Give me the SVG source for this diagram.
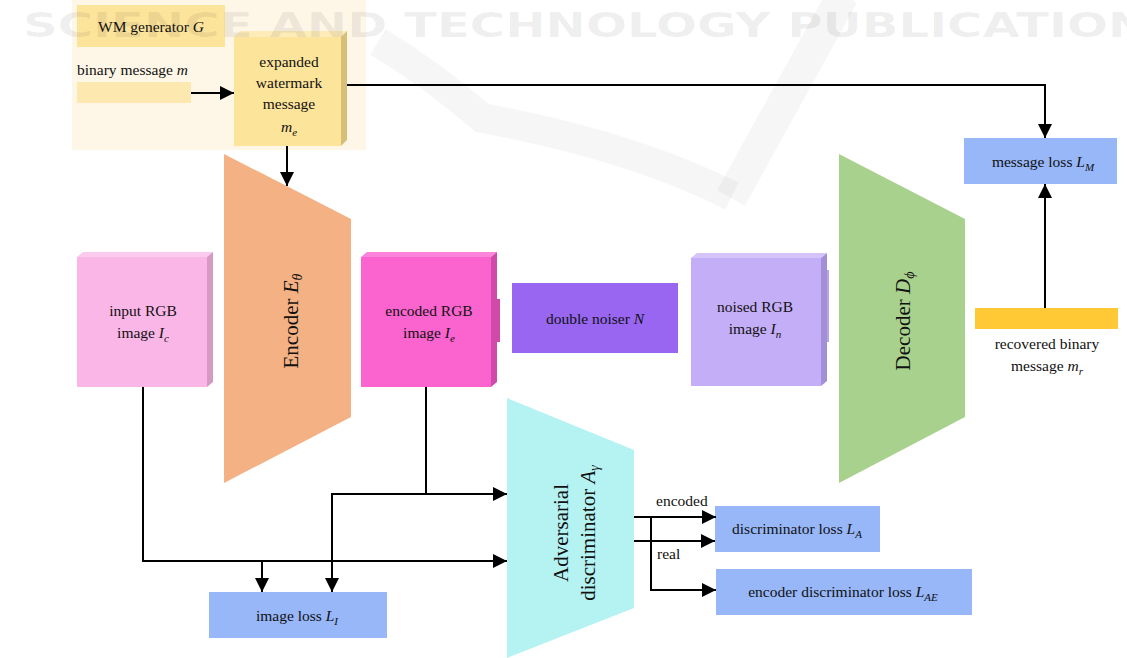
<svg xmlns="http://www.w3.org/2000/svg" width="1127" height="658" viewBox="0 0 1127 658">
  <style>
    .t { font-family: "Liberation Serif", "Times New Roman", serif; font-size: 15.5px; fill: #111; }
    .c { text-anchor: middle; }
    .i { font-style: italic; }
    .sub { font-style: italic; font-size: 11px; }
    .subl { font-style: italic; font-size: 14px; }
    .big { font-size: 21px; }
    .ln { fill: none; stroke: #000; stroke-width: 2; }
    .arr { marker-end: url(#ah); }
    .loss { fill: #97b7f9; }
  </style>
  <defs>
    <marker id="ah" markerUnits="userSpaceOnUse" markerWidth="14" markerHeight="14" refX="14" refY="7" orient="auto">
      <path d="M0,0 L14,7 L0,14 Z" fill="#000"/>
    </marker>
  </defs>

  <rect width="1127" height="658" fill="#fff"/>

  <!-- publisher mark, drawn faintly beneath everything -->
  <g id="publisher-mark">
    <path d="M378,42 C418,66 452,92 482,118 C570,134 660,160 732,196" fill="none" stroke="#000" stroke-opacity="0.035" stroke-width="30"/>
    <path d="M843,-5 L731,198" fill="none" stroke="#000" stroke-opacity="0.035" stroke-width="32"/>
  </g>

  <!-- watermark generator panel -->
  <g id="wm-generator">
    <rect x="72" y="0" width="294" height="150" fill="#fef7e8"/>
    <rect x="77" y="5" width="148" height="42" fill="#fde49b"/>
    <text class="t c" x="151" y="32">WM generator <tspan class="i">G</tspan></text>
    <text class="t" x="77" y="75">binary message <tspan class="i">m</tspan></text>
    <rect x="77" y="82" width="114" height="21" fill="#fde8b0"/>
  </g>

  <g id="expanded-message">
    <polygon points="234,37 240,31 347,31 341,37" fill="#fdebb8"/>
    <polygon points="341,37 347,31 347,140 341,146" fill="#d8bf78"/>
    <rect x="234" y="37" width="107" height="109" fill="#fde49b"/>
    <text class="t c" x="289" y="67">expanded</text>
    <text class="t c" x="289" y="88">watermark</text>
    <text class="t c" x="289" y="109">message</text>
    <text class="t c" x="289" y="132"><tspan class="i">m</tspan><tspan class="sub" dy="4">e</tspan></text>
  </g>

  <g id="encoder">
    <polygon points="224,154 351,219 351,417 224,483" fill="#f4b183"/>
    <text class="t c big" transform="translate(298,321) rotate(-90)">Encoder <tspan class="i">E</tspan><tspan class="subl" dy="4">θ</tspan></text>
  </g>

  <g id="input-image">
    <polygon points="77,257 83,252 213,252 207,257" fill="#fcc9ef"/>
    <polygon points="207,257 213,252 213,382 207,387" fill="#d59ac1"/>
    <rect x="77" y="257" width="130" height="130" fill="#fbb6e8"/>
    <text class="t c" x="143" y="316">input RGB</text>
    <text class="t c" x="143" y="338">image <tspan class="i">I</tspan><tspan class="sub" dy="4">c</tspan></text>
  </g>

  <g id="encoded-image">
    <polygon points="361,257 367,252 497,252 491,257" fill="#fc84da"/>
    <polygon points="491,257 497,252 497,382 491,387" fill="#d04aa9"/>
    <rect x="497" y="299" width="3" height="43" fill="#d04aa9"/>
    <rect x="361" y="257" width="130" height="130" fill="#fb64cf"/>
    <text class="t c" x="429" y="316">encoded RGB</text>
    <text class="t c" x="429" y="338">image <tspan class="i">I</tspan><tspan class="sub" dy="4">e</tspan></text>
  </g>

  <g id="double-noiser">
    <rect x="512" y="283" width="166" height="70" fill="#9866f1"/>
    <text class="t c" x="595" y="324">double noiser <tspan class="i">N</tspan></text>
  </g>

  <g id="noised-image">
    <polygon points="691,258 697,253 827,253 821,258" fill="#d4c4f9"/>
    <polygon points="821,258 827,253 827,381 821,386" fill="#a38ed8"/>
    <rect x="827" y="270" width="2" height="72" fill="#b8a4e6"/>
    <rect x="691" y="258" width="130" height="128" fill="#c4aef7"/>
    <text class="t c" x="755" y="312">noised RGB</text>
    <text class="t c" x="755" y="334">image <tspan class="i">I</tspan><tspan class="sub" dy="4">n</tspan></text>
  </g>

  <g id="decoder">
    <polygon points="839,154 965,219 965,417 839,483" fill="#a9d18e"/>
    <text class="t c big" transform="translate(910,321) rotate(-90)">Decoder <tspan class="i">D</tspan><tspan class="subl" dy="4">ϕ</tspan></text>
  </g>

  <g id="message-loss">
    <rect class="loss" x="964" y="138" width="153" height="46"/>
    <text class="t c" x="1043" y="167">message loss <tspan class="i">L</tspan><tspan class="sub" dy="4">M</tspan></text>
  </g>

  <g id="recovered-message">
    <rect x="975" y="308" width="143" height="21" fill="#ffc936"/>
    <text class="t c" x="1047" y="349">recovered binary</text>
    <text class="t c" x="1047" y="371">message <tspan class="i">m</tspan><tspan class="sub" dy="4">r</tspan></text>
  </g>

  <g id="discriminator">
    <polygon points="507,398 634,450 634,608 507,658" fill="#b5f3f2"/>
    <text class="t c big" transform="translate(568,533) rotate(-90)">Adversarial</text>
    <text class="t c big" transform="translate(595,533) rotate(-90)">discriminator <tspan class="i">A</tspan><tspan class="subl" dy="4">γ</tspan></text>
  </g>

  <g id="discriminator-loss">
    <rect class="loss" x="715" y="506" width="165" height="46"/>
    <text class="t c" x="797" y="534">discriminator loss <tspan class="i">L</tspan><tspan class="sub" dy="4">A</tspan></text>
  </g>

  <g id="encoder-discriminator-loss">
    <rect class="loss" x="716" y="569" width="256" height="46"/>
    <text class="t c" x="843" y="597">encoder discriminator loss <tspan class="i">L</tspan><tspan class="sub" dy="4">AE</tspan></text>
  </g>

  <g id="image-loss">
    <rect class="loss" x="209" y="592" width="178" height="46"/>
    <text class="t c" x="297" y="621">image loss <tspan class="i">L</tspan><tspan class="sub" dy="4">I</tspan></text>
  </g>

  <!-- connectors -->
  <g id="connectors">
    <path class="ln arr" d="M191,93 H234"/>
    <path class="ln arr" d="M347,85 H1045 V138"/>
    <path class="ln arr" d="M287,146 V186"/>
    <path class="ln arr" d="M1045,308 V184"/>
    <path class="ln arr" d="M143,387 V561 H507"/>
    <path class="ln arr" d="M262,561 V592"/>
    <path class="ln arr" d="M426,387 V494 H507"/>
    <path class="ln arr" d="M426,494 H332 V592"/>
    <path class="ln arr" d="M634,517 H716"/>
    <path class="ln arr" d="M634,541 H715"/>
    <path class="ln arr" d="M651,517 V590 H716"/>
    <text class="t" x="656" y="506">encoded</text>
    <text class="t" x="657" y="559">real</text>
  </g>

  <!-- publisher line printed across the top -->
  <text id="publisher-line" x="23" y="37" font-family="DejaVu Sans, sans-serif" font-weight="bold" font-size="34" fill="#000" fill-opacity="0.065" textLength="1160" lengthAdjust="spacingAndGlyphs">SCIENCE AND TECHNOLOGY PUBLICATIONS</text>
</svg>
